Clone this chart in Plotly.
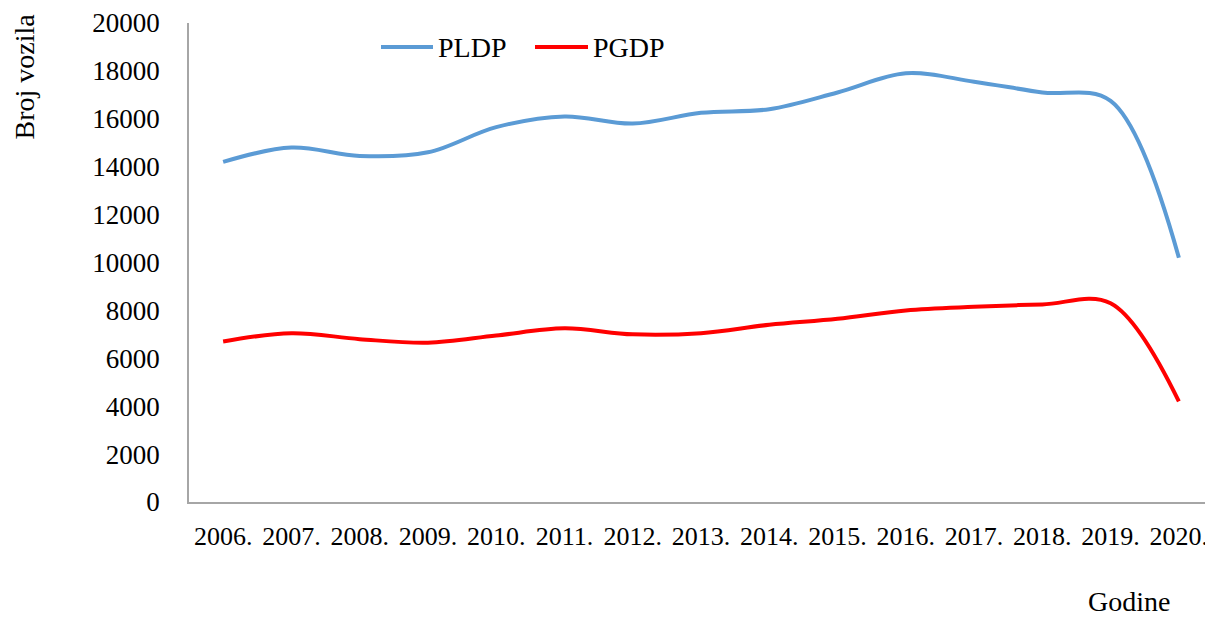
import plotly.graph_objects as go

# Godine (kategorije na x osi)
godine = ["2006.", "2007.", "2008.", "2009.", "2010.", "2011.", "2012.", "2013.",
          "2014.", "2015.", "2016.", "2017.", "2018.", "2019.", "2020."]

# Broj vozila po godinama
pldp = [14200, 14800, 14450, 14600, 15650, 16100, 15800, 16250,
        16400, 17100, 17900, 17550, 17100, 16750, 10200]
pgdp = [6700, 7050, 6800, 6650, 6950, 7250, 7000, 7050,
        7400, 7650, 8000, 8150, 8250, 8300, 4200]

y_ticks = [0, 2000, 4000, 6000, 8000, 10000, 12000, 14000, 16000, 18000, 20000]
y_tick_labels = [str(v) for v in y_ticks]

FONT = "Liberation Serif, Times New Roman, serif"
BLUE = "#5B9BD5"
RED = "#FF0000"

# stranica ima 8px margine na body, pa je figura manja za toliko
OFF = 8
FIG_W, FIG_H = 1213 - OFF, 618 - OFF
# plot area in screen pixels (for placing legend and axis titles)
L, T, W, H = 189, 23, 1024, 479


def px_x(x):
    return (x - L) / W


def px_y(y):
    return 1 - (y - T) / H


fig = go.Figure()
fig.add_trace(go.Scatter(x=godine, y=pldp, name="PLDP", mode="lines",
                         line=dict(color=BLUE, width=4, shape="spline", smoothing=1.0)))
fig.add_trace(go.Scatter(x=godine, y=pgdp, name="PGDP", mode="lines",
                         line=dict(color=RED, width=4, shape="spline", smoothing=1.0)))

# legenda rucno (duze linije kao u Excelu)
leg_y = px_y(47)
shapes = [
    dict(type="line", xref="paper", yref="paper", x0=px_x(381), x1=px_x(433), y0=leg_y, y1=leg_y,
         line=dict(color=BLUE, width=4)),
    dict(type="line", xref="paper", yref="paper", x0=px_x(535), x1=px_x(588), y0=leg_y, y1=leg_y,
         line=dict(color=RED, width=4)),
]
annotations = [
    dict(text="PLDP", xref="paper", yref="paper", x=px_x(436), y=leg_y, xanchor="left",
         yanchor="middle", showarrow=False, font=dict(size=28)),
    dict(text="PGDP", xref="paper", yref="paper", x=px_x(591), y=leg_y, xanchor="left",
         yanchor="middle", showarrow=False, font=dict(size=28)),
    dict(text="Broj vozila", xref="paper", yref="paper", x=px_x(7), y=px_y(12),
         xanchor="left", yanchor="top", textangle=-90, showarrow=False, font=dict(size=28)),
    dict(text="Godine", xref="paper", yref="paper", x=px_x(1129), y=px_y(618),
         xanchor="center", yanchor="bottom", showarrow=False, font=dict(size=28), borderpad=0),
]

fig.update_layout(
    width=FIG_W, height=FIG_H,
    margin=dict(l=L - OFF, r=FIG_W - (L - OFF) - W, t=T - OFF, b=FIG_H - (T - OFF) - H,
                autoexpand=False),
    paper_bgcolor="white", plot_bgcolor="white",
    font=dict(family=FONT, size=27, color="black"),
    showlegend=False,
    shapes=shapes,
    annotations=annotations,
    xaxis=dict(type="category", showgrid=False, showline=True, linecolor="#A6A6A6", linewidth=1.5,
               ticks="outside", ticklen=10, tickcolor="rgba(0,0,0,0)", automargin=False,
               range=[-0.5, 14.5], tickfont=dict(size=26)),
    yaxis=dict(range=[0, 20000], tickvals=y_ticks, ticktext=y_tick_labels, showgrid=False,
               showline=True, linecolor="#A6A6A6", linewidth=1.5, ticks="outside", ticklen=22,
               tickcolor="rgba(0,0,0,0)", automargin=False, tickfont=dict(size=27)),
)

fig.write_html("out.html")
